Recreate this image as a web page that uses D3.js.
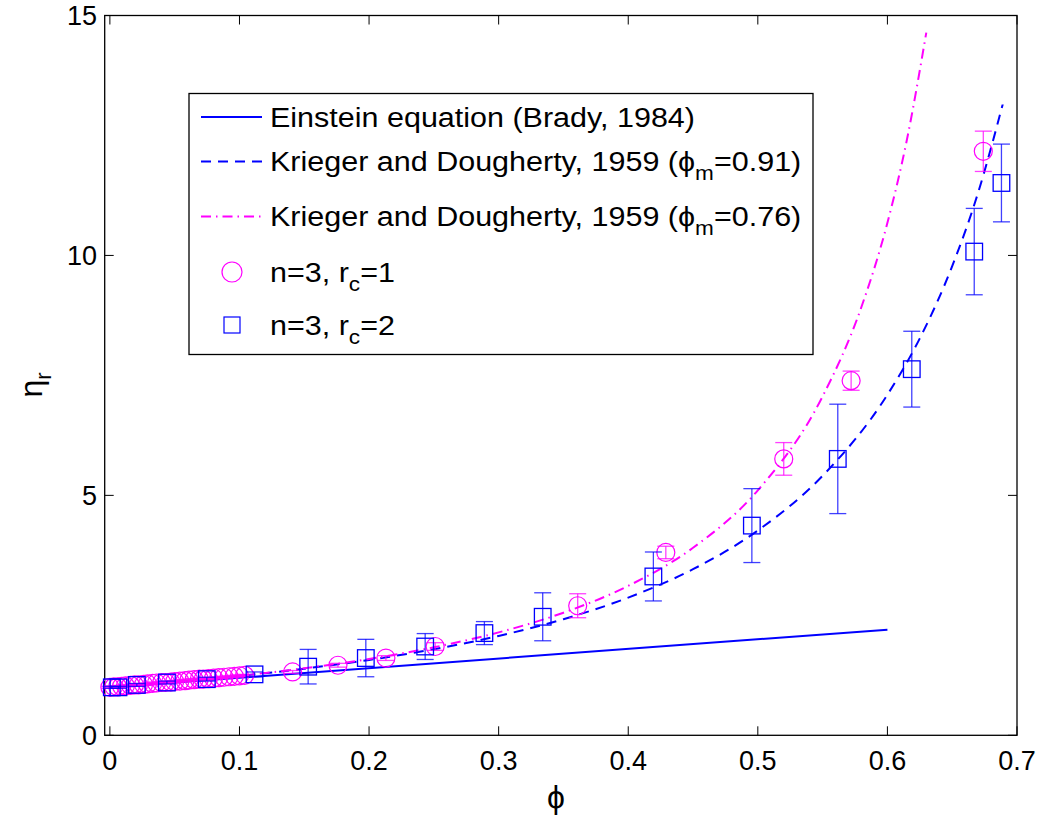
<!DOCTYPE html>
<html>
<head>
<meta charset="utf-8">
<script src="https://cdn.jsdelivr.net/npm/d3@7"></script>
<style>
  body { margin: 0; background: #fff; }
  svg { font-family: "Liberation Sans", Arial, sans-serif; }
</style>
</head>
<body>
<svg id="chart" width="1045" height="817"></svg>
<script>
// Einstein line (Brady, 1984)
const einPhi = [0, 0.6];
const einEta = [1.0, 2.2];

// Krieger & Dougherty, phi_m = 0.91
const kd91Phi = [0, 0.05, 0.1, 0.15, 0.2, 0.25, 0.3, 0.35, 0.4, 0.45, 0.5, 0.55, 0.6, 0.625, 0.65, 0.67, 0.689];
const kd91Eta = [1.0, 1.108, 1.236, 1.388, 1.571, 1.794, 2.071, 2.42, 2.869, 3.461, 4.268, 5.408, 7.098, 8.272, 9.777, 11.31, 13.15];

// Krieger & Dougherty, phi_m = 0.76
const kd76Phi = [0, 0.05, 0.1, 0.15, 0.2, 0.25, 0.3, 0.35, 0.4, 0.45, 0.5, 0.55, 0.58, 0.6, 0.615, 0.63];
const kd76Eta = [1.0, 1.109, 1.239, 1.397, 1.591, 1.834, 2.145, 2.555, 3.114, 3.908, 5.106, 7.064, 8.93, 10.68, 12.405, 14.643];

// n=3, rc=1 (circles)
const c1Phi = [0.000, 0.003, 0.006, 0.009, 0.012, 0.016, 0.019, 0.022, 0.026, 0.029, 0.033, 0.036, 0.040, 0.043, 0.047,
               0.050, 0.054, 0.058, 0.061, 0.065, 0.069, 0.072, 0.076, 0.080, 0.084, 0.088, 0.092, 0.096, 0.100, 0.104,
               0.141, 0.176, 0.213, 0.251, 0.361, 0.429, 0.520, 0.572, 0.674];
const c1Eta = [1.00, 1.01, 1.01, 1.02, 1.03, 1.04, 1.05, 1.05, 1.06, 1.07, 1.08, 1.09, 1.10, 1.10, 1.11,
               1.12, 1.13, 1.14, 1.15, 1.16, 1.17, 1.17, 1.18, 1.19, 1.20, 1.21, 1.22, 1.23, 1.24, 1.25,
               1.32, 1.46, 1.61, 1.85, 2.70, 3.81, 5.76, 7.39, 12.17];
const c1Err = [0.02, 0.02, 0.02, 0.02, 0.02, 0.02, 0.02, 0.02, 0.02, 0.02, 0.02, 0.02, 0.02, 0.02, 0.02,
               0.02, 0.02, 0.02, 0.02, 0.02, 0.02, 0.02, 0.02, 0.02, 0.02, 0.02, 0.02, 0.02, 0.02, 0.02,
               0.03, 0.04, 0.05, 0.08, 0.25, 0.13, 0.34, 0.20, 0.42];

// n=3, rc=2 (squares)
const c2Phi = [0.0015, 0.0066, 0.0208, 0.044, 0.0748, 0.1116, 0.153, 0.1975, 0.2433, 0.289, 0.334, 0.4194, 0.4954, 0.5617, 0.6188, 0.667, 0.688];
const c2Eta = [1.00, 1.00, 1.05, 1.10, 1.17, 1.27, 1.43, 1.61, 1.85, 2.13, 2.47, 3.31, 4.37, 5.76, 7.63, 10.08, 11.51];
const c2Err = [0.02, 0.02, 0.03, 0.03, 0.04, 0.05, 0.36, 0.39, 0.27, 0.24, 0.50, 0.51, 0.77, 1.14, 0.79, 0.90, 0.81];

const xTicks = [0, 0.1, 0.2, 0.3, 0.4, 0.5, 0.6, 0.7];
const yTicks = [0, 5, 10, 15];

const svg = d3.select("#chart");
const pL = 104.7, pR = 1017, pT = 15.5, pB = 735.3;
const x = d3.scaleLinear().domain([-0.004, 0.7]).range([pL, pR]);
const y = d3.scaleLinear().domain([0, 15]).range([pB, pT]);
const blue = "#0000ff", magenta = "#ff00ff";
const tickLen = 9;
const PHI = "\u03d5";

// box
svg.append("rect")
  .attr("x", pL).attr("y", pT)
  .attr("width", pR - pL).attr("height", pB - pT)
  .attr("fill", "none").attr("stroke", "#000").attr("stroke-width", 1.3);

// ticks (inward, all four sides)
const g = svg.append("g").attr("stroke", "#000").attr("stroke-width", 1);
xTicks.forEach(t => {
  g.append("line").attr("x1", x(t)).attr("x2", x(t)).attr("y1", pB).attr("y2", pB - tickLen);
  g.append("line").attr("x1", x(t)).attr("x2", x(t)).attr("y1", pT).attr("y2", pT + tickLen);
});
yTicks.forEach(t => {
  g.append("line").attr("x1", pL).attr("x2", pL + tickLen).attr("y1", y(t)).attr("y2", y(t));
  g.append("line").attr("x1", pR).attr("x2", pR - tickLen).attr("y1", y(t)).attr("y2", y(t));
});

svg.selectAll(".xlab").data(xTicks).enter().append("text")
  .attr("x", d => x(d)).attr("y", 770)
  .attr("text-anchor", "middle").attr("font-size", 27)
  .text(d => d);
svg.selectAll(".ylab").data(yTicks).enter().append("text")
  .attr("x", 97).attr("y", d => y(d) + 9.5)
  .attr("text-anchor", "end").attr("font-size", 27)
  .text(d => d);

// axis titles
svg.append("text").attr("x", 556).attr("y", 808).attr("text-anchor", "middle")
  .attr("font-size", 32).text(PHI);
const yt = svg.append("text").attr("transform", "translate(42,385) rotate(-90)")
  .attr("text-anchor", "middle").attr("font-size", 32);
yt.append("tspan").text("\u03b7");
yt.append("tspan").attr("font-size", 22).attr("dy", 9).text("r");

// curves
const line = d3.line().x(d => x(d[0])).y(d => y(d[1])).curve(d3.curveMonotoneX);
svg.append("path").datum(d3.zip(einPhi, einEta)).attr("d", line)
  .attr("fill", "none").attr("stroke", blue).attr("stroke-width", 2);
svg.append("path").datum(d3.zip(kd91Phi, kd91Eta)).attr("d", line)
  .attr("fill", "none").attr("stroke", blue).attr("stroke-width", 2)
  .attr("stroke-dasharray", "10,7");
svg.append("path").datum(d3.zip(kd76Phi, kd76Eta)).attr("d", line)
  .attr("fill", "none").attr("stroke", magenta).attr("stroke-width", 2)
  .attr("stroke-dasharray", "10,5,1.5,5");

// error bars + markers
function errSeries(phi, eta, err, color, marker) {
  const data = d3.zip(phi, eta, err);
  const eg = svg.append("g").attr("stroke", color).attr("fill", "none");
  const cap = 8.5;
  data.forEach(d => {
    const cx = x(d[0]), y1 = y(d[1] + d[2]), y2 = y(d[1] - d[2]);
    eg.append("line").attr("x1", cx).attr("x2", cx).attr("y1", y1).attr("y2", y2)
      .attr("stroke-width", 1.3).attr("stroke-opacity", 0.75);
    eg.append("line").attr("x1", cx - cap).attr("x2", cx + cap).attr("y1", y1).attr("y2", y1)
      .attr("stroke-width", 1.3).attr("stroke-opacity", 0.75);
    eg.append("line").attr("x1", cx - cap).attr("x2", cx + cap).attr("y1", y2).attr("y2", y2)
      .attr("stroke-width", 1.3).attr("stroke-opacity", 0.75);
  });
  data.forEach(d => {
    const cx = x(d[0]), cy = y(d[1]);
    if (marker === "circle") {
      eg.append("circle").attr("cx", cx).attr("cy", cy).attr("r", 9).attr("stroke-width", 1.2);
    } else {
      eg.append("rect").attr("x", cx - 8.3).attr("y", cy - 8.3).attr("width", 16.6).attr("height", 16.6)
        .attr("stroke-width", 1.3);
    }
  });
}
errSeries(c1Phi, c1Eta, c1Err, magenta, "circle");
errSeries(c2Phi, c2Eta, c2Err, blue, "square");

// legend
const lg = svg.append("g");
lg.append("rect").attr("x", 189).attr("y", 93.5).attr("width", 624).attr("height", 261)
  .attr("fill", "#fff").attr("stroke", "#000").attr("stroke-width", 1.3);
const rows = [117, 161.5, 216.5, 272, 325];
lg.append("line").attr("x1", 201).attr("x2", 262).attr("y1", rows[0]).attr("y2", rows[0])
  .attr("stroke", blue).attr("stroke-width", 2);
lg.append("line").attr("x1", 201).attr("x2", 262).attr("y1", rows[1]).attr("y2", rows[1])
  .attr("stroke", blue).attr("stroke-width", 2).attr("stroke-dasharray", "10,7");
lg.append("line").attr("x1", 201).attr("x2", 262).attr("y1", rows[2]).attr("y2", rows[2])
  .attr("stroke", magenta).attr("stroke-width", 2).attr("stroke-dasharray", "10,5,1.5,5");
lg.append("circle").attr("cx", 232).attr("cy", rows[3]).attr("r", 10)
  .attr("fill", "none").attr("stroke", magenta).attr("stroke-width", 1.2);
lg.append("rect").attr("x", 224).attr("y", rows[4] - 8).attr("width", 16).attr("height", 16)
  .attr("fill", "none").attr("stroke", blue).attr("stroke-width", 1.2);

function legText(yy, parts) {
  const t = lg.append("text").attr("transform", `translate(270,${yy + 9.5}) scale(1.13,1)`)
    .attr("font-size", 27);
  parts.forEach(p => {
    if (typeof p === "string") t.append("tspan").text(p);
    else {
      t.append("tspan").attr("font-size", 20).attr("dy", 9).text(p.sub);
      t.append("tspan").attr("dy", -9).text(p.after);
    }
  });
}
legText(rows[0], ["Einstein equation (Brady, 1984)"]);
legText(rows[1], ["Krieger and Dougherty, 1959 (" + PHI, {sub: "m", after: "=0.91)"}]);
legText(rows[2], ["Krieger and Dougherty, 1959 (" + PHI, {sub: "m", after: "=0.76)"}]);
legText(rows[3], ["n=3, r", {sub: "c", after: "=1"}]);
legText(rows[4], ["n=3, r", {sub: "c", after: "=2"}]);
</script>
</body>
</html>
